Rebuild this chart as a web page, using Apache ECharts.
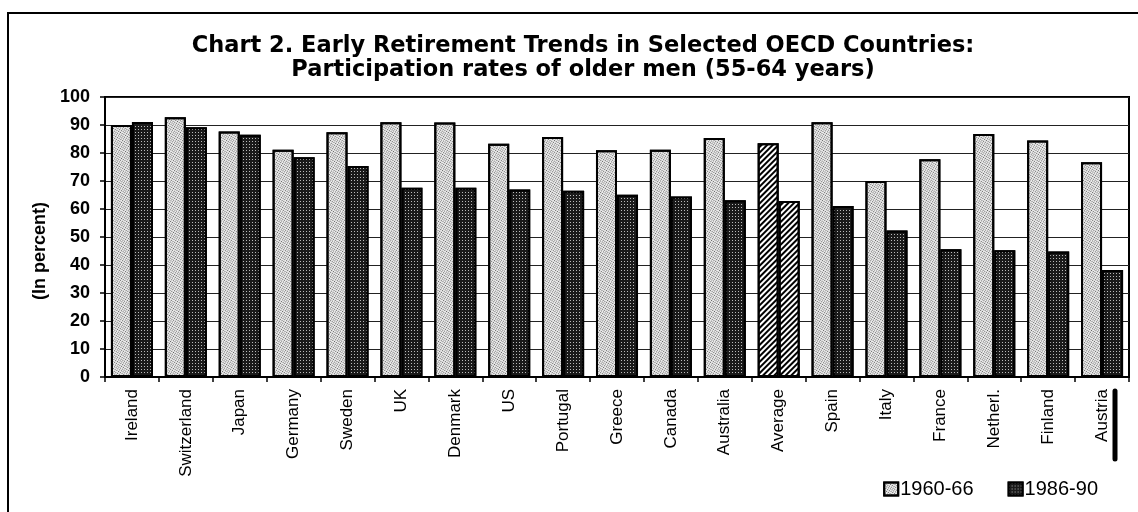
<!DOCTYPE html>
<html>
<head>
<meta charset="utf-8">
<script src="https://cdn.jsdelivr.net/npm/echarts@6/dist/echarts.min.js"></script>
<style>html,body{margin:0;padding:0;background:#fff;}#c{width:1138px;height:512px;}</style>
</head>
<body>
<div id="c"></div>
<script>
const categories = ['Ireland','Switzerland','Japan','Germany','Sweden','UK','Denmark','US','Portugal','Greece','Canada','Australia','Average','Spain','Italy','France','Netherl.','Finland','Austria'];
const rates1960 = [90.0, 92.8, 87.7, 81.2, 87.4, 91.0, 90.9, 83.3, 85.7, 81.0, 81.2, 85.4, 83.5, 91.0, 70.0, 77.8, 86.8, 84.5, 76.7];
const rates1986 = [91.1, 89.2, 86.5, 78.5, 75.4, 67.6, 67.6, 67.0, 66.5, 65.1, 64.5, 63.1, 62.9, 61.1, 52.3, 45.6, 45.3, 44.8, 38.2];
const yTicks = [0,10,20,30,40,50,60,70,80,90,100];
const seriesNames = ['1960-66','1986-90'];
const highlightCategory = 'Average';

const font = 'Arial, "Liberation Sans", Helvetica, sans-serif';
const titleFont = '"DejaVu Sans", Arial, sans-serif';
const lightDecal = {symbol:'rect', symbolSize:1, dashArrayX:[1,1], dashArrayY:[1,1], color:'rgba(0,0,0,0.6)'};
const darkDecal = {symbol:'rect', symbolSize:1, dashArrayX:[1,2], dashArrayY:[1,2], color:'rgba(255,255,255,0.7)'};
const hatchDecal = {symbol:'rect', symbolSize:1, dashArrayX:[1,0], dashArrayY:[2,2], rotation:-Math.PI/4, color:'#000'};

function build(values){
  return values.map((v,i)=> categories[i]===highlightCategory
    ? {value:v, itemStyle:{color:'#fff', decal:hatchDecal}}
    : v);
}

const chart = echarts.init(document.getElementById('c'), null, {renderer:'canvas'});
chart.setOption({
  animation:false,
  backgroundColor:'#fff',
  aria:{enabled:true, decal:{show:true}},
  title:{
    text:'Chart 2. Early Retirement Trends in Selected OECD Countries:\nParticipation rates of older men (55-64 years)',
    left:578, top:29, textAlign:'center',
    textStyle:{fontFamily:titleFont, fontSize:22.5, fontWeight:'bold', color:'#000', lineHeight:24}
  },
  grid:{left:105, right:9, top:97, bottom:135, show:true, borderColor:'#000', borderWidth:2, backgroundColor:'transparent'},
  legend:{
    data:seriesNames, right:35, bottom:8, icon:'rect', itemWidth:14, itemHeight:13, itemGap:34,
    textStyle:{fontFamily:font, fontSize:20, color:'#000', padding:[0,0,0,-3]}
  },
  xAxis:{
    type:'category', data:categories,
    axisLine:{lineStyle:{color:'#000', width:2}},
    axisTick:{show:true, inside:false, length:5, lineStyle:{color:'#000', width:1.5}},
    axisLabel:{rotate:90, interval:0, margin:12, fontFamily:font, fontSize:17, color:'#000'}
  },
  yAxis:{
    type:'value', min:0, max:100, interval:10,
    name:'(In percent)', nameLocation:'middle', nameRotate:90, nameGap:48,
    nameTextStyle:{fontFamily:font, fontSize:18, fontWeight:'bold', color:'#000', padding:[0,28,0,0]},
    axisLine:{show:true, lineStyle:{color:'#000', width:2}},
    axisTick:{show:true, length:5, lineStyle:{color:'#000', width:1.5}},
    axisLabel:{margin:15, fontFamily:font, fontSize:18, fontWeight:'bold', color:'#000',
      formatter:(v)=> yTicks.indexOf(v)>=0 ? String(v) : ''},
    splitLine:{show:true, lineStyle:{color:'#222', width:1}}
  },
  series:[
    {name:seriesNames[0], type:'bar', data:build(rates1960), barGap:'0%', barCategoryGap:'22%',
      itemStyle:{color:'#eeeeee', borderColor:'#000', borderWidth:2, decal:lightDecal}},
    {name:seriesNames[1], type:'bar', data:build(rates1986),
      itemStyle:{color:'#1a1a1a', borderColor:'#000', borderWidth:2, decal:darkDecal}}
  ],
  graphic:[
    {type:'rect', shape:{x:8, y:13, width:1200, height:600}, style:{fill:'none', stroke:'#000', lineWidth:2}, silent:true},
    {type:'line', shape:{x1:1115, y1:391, x2:1115, y2:459}, style:{stroke:'#000', lineWidth:5, lineCap:'round'}, silent:true}
  ]
});
</script>
</body>
</html>
